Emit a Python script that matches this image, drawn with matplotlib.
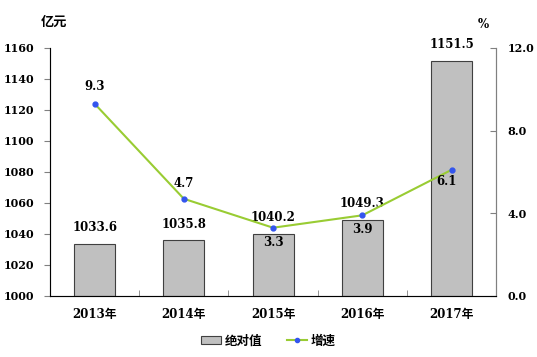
import matplotlib

matplotlib.use("Agg")
import matplotlib.pyplot as plt  # noqa: E402
from matplotlib.lines import Line2D  # noqa: E402
from matplotlib.patches import Patch  # noqa: E402

plt.rcParams["font.family"] = ["DejaVu Serif", "Noto Sans CJK SC"]
plt.rcParams["font.weight"] = "bold"

years = ["2013年", "2014年", "2015年", "2016年", "2017年"]
amount = [1033.6, 1035.8, 1040.2, 1049.3, 1151.5]
growth = [9.3, 4.7, 3.3, 3.9, 6.1]
left_ticks = [1000, 1020, 1040, 1060, 1080, 1100, 1120, 1140, 1160]
right_ticks = [0.0, 4.0, 8.0, 12.0]

# label offsets (points) for the growth labels
growth_off = [(0, 8), (0, 6), (0, -15), (0, -15), (-4, -13)]

fig = plt.figure(figsize=(5.37, 3.57), dpi=100)
ax = fig.add_axes([0.093, 0.171, 0.831, 0.695])
x = range(len(years))
ax.bar(x, [a - 1000 for a in amount], bottom=1000, width=0.46,
       color="#c0c0c0", edgecolor="#404040", linewidth=0.8, zorder=2)
for i, a in enumerate(amount):
    ax.annotate(f"{a:.1f}", (i, a), xytext=(0, 7), textcoords="offset points",
                ha="center", va="bottom", fontsize=8.5)
ax.set_ylim(1000, 1160)
ax.set_xlim(-0.5, len(years) - 0.5)
ax.set_yticks(left_ticks)
ax.set_xticks(x)
ax.set_xticklabels(years, fontsize=8.5)
ax.set_xticks([i + 0.5 for i in range(len(years) - 1)], minor=True)
ax.tick_params(axis="x", which="major", length=0, pad=9)
ax.tick_params(axis="x", which="minor", length=4, direction="in", color="#808080")
ax.tick_params(axis="y", length=4, color="#808080", labelsize=8, pad=7)
ax.spines["top"].set_visible(False)
for s in ("left", "bottom", "right"):
    ax.spines[s].set_color("#808080")

ax2 = ax.twinx()
ax2.plot(list(x), growth, color="#99cc33", lw=1.5, marker="o", ms=3.5,
         mfc="#3355ee", mec="#3355ee", zorder=3)
for i, g in enumerate(growth):
    ax2.annotate(f"{g:.1f}", (i, g), xytext=growth_off[i], textcoords="offset points",
                 ha="center", va="bottom", fontsize=8.5)
ax2.set_ylim(0, 12)
ax2.set_yticks(right_ticks)
ax2.set_yticklabels([f"{t:.1f}" for t in right_ticks])
ax2.tick_params(axis="y", length=4, direction="in", color="#808080", labelsize=8, pad=8)
ax2.spines["top"].set_visible(False)
ax2.spines["right"].set_color("#808080")

fig.text(0.1, 0.938, "亿元", ha="center", va="center", fontsize=9.5)
fig.text(0.9, 0.93, "%", ha="center", va="center", fontsize=8.5)

handles = [Patch(facecolor="#c0c0c0", edgecolor="#404040", linewidth=0.8),
           Line2D([], [], color="#99cc33", lw=1.5, marker="o", ms=3,
                  mfc="#3355ee", mec="#3355ee")]
fig.legend(handles, ["绝对值", "增速"], loc="center", bbox_to_anchor=(0.5, 0.045),
           ncol=2, frameon=False, fontsize=9, handlelength=1.6,
           handletextpad=0.3, columnspacing=2.0)

fig.savefig("out.png", dpi=100)
